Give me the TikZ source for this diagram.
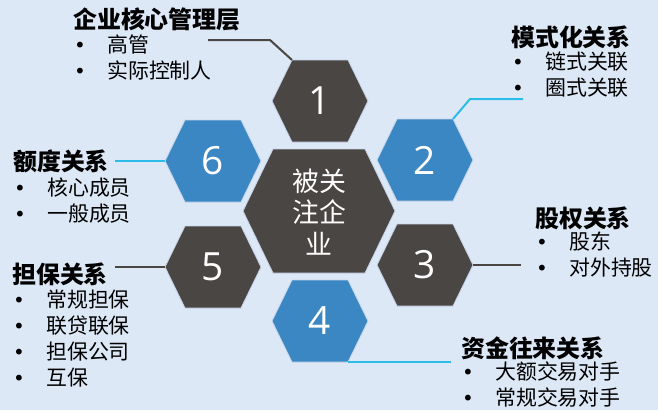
\documentclass[tikz,border=0pt]{standalone}
\usepackage{fontspec}
\usepackage{tikz}
\usetikzlibrary{positioning}
\setmainfont{Noto Sans CJK SC}
\newfontfamily\numfont{Open Sans}
\newfontfamily\dotfont{DejaVu Sans}

\definecolor{bgblue}{RGB}{221,232,246}
\definecolor{hexgray}{RGB}{74,70,68}
\definecolor{hexblue}{RGB}{58,135,196}
\definecolor{hexedge}{RGB}{200,214,234}
\definecolor{linecyan}{RGB}{43,189,232}

\tikzset{
  hexdark/.style={fill=hexgray,draw=hexedge,line width=0.8bp},
  hexlight/.style={fill=hexblue,draw=hexedge,line width=0.8bp},
  numlabel/.style={text=white,inner sep=0,font=\numfont\fontsize{39}{39}\selectfont},
  heading/.style={anchor=west,inner sep=0,font=\bfseries\fontsize{24}{24}\selectfont},
  itemlist/.style={anchor=north west,inner sep=0,align=left,font=\fontsize{21}{26}\selectfont},
  linkgray/.style={draw=hexgray,line width=2bp},
  linkcyan/.style={draw=linecyan,line width=2bp},
}
\newcommand{\bul}{\makebox[33bp][l]{{\dotfont\fontsize{20}{20}\selectfont\textbullet}}}

\begin{document}
\begin{tikzpicture}[x=1bp,y=-1bp]
    \fill[bgblue] (0,0) rectangle (658,410);
    \useasboundingbox (0,0) rectangle (658,410);

    % centre hexagon
    \draw[hexdark,shift={(319,211)}] (-76,0) -- (-46,-62) -- (46,-62) -- (76,0) -- (46,62) -- (-46,62) -- cycle;
    \node[text=white,align=center,inner sep=0,font=\fontsize{27}{32}\selectfont] (core) at (319,212) {被关\\注企\\业};

    % six small hexagons
    \foreach \n/\cx/\cy/\sty in {1/320/101/hexdark,2/425/160/hexlight,3/425/265/hexdark,
                                 4/320/321/hexlight,5/213/267/hexdark,6/213/161/hexlight}{
        \draw[\sty,shift={(\cx,\cy)}] (-48,0) coordinate (h\n-w) -- (-28,-41) coordinate (h\n-nw)
            -- (28,-41) coordinate (h\n-ne) -- (48,0) coordinate (h\n-e)
            -- (28,41) coordinate (h\n-se) -- (-28,41) coordinate (h\n-sw) -- cycle;
        \node[numlabel] (n\n) at (\cx,\cy) {\n};
    }

    % labels
    \node[heading] (t1) at (73,19) {企业核心管理层};
    \node[itemlist] (l1) at (74,35) {\bul 高管\\ \bul 实际控制人};
    \node[heading] (t2) at (511,37) {模式化关系};
    \node[itemlist] (l2) at (512,52) {\bul 链式关联\\ \bul 圈式关联};
    \node[heading] (t3) at (535,218) {股权关系};
    \node[itemlist] (l3) at (536,232) {\bul 股东\\ \bul 对外持股};
    \node[heading] (t4) at (461,348) {资金往来关系};
    \node[itemlist] (l4) at (462,362) {\bul 大额交易对手\\ \bul 常规交易对手};
    \node[heading] (t5) at (12,274) {担保关系};
    \node[itemlist] (l5) at (13,290) {\bul 常规担保\\ \bul 联贷联保\\ \bul 担保公司\\ \bul 互保};
    \node[heading] (t6) at (13,161) {额度关系};
    \node[itemlist] (l6) at (14,178) {\bul 核心成员\\ \bul 一般成员};

    % connectors
    \coordinate (c1) at (208,40);
    \coordinate (c2) at (523,99);
    \coordinate (c3) at (521,265);
    \coordinate (c4) at (451,362);
    \coordinate (c5) at (115,267);
    \coordinate (c6) at (115,161);
    \draw[linkgray] (h1-nw) -- ++(-22,-20) -- (c1);
    \draw[linkcyan] (h2-ne) -- ++(17,-20) -- (c2);
    \draw[linkgray] (h3-e) -- (c3);
    \draw[linkcyan] (h4-se) -- (c4);
    \draw[linkgray] (h5-w) -- (c5);
    \draw[linkcyan] (h6-w) -- (c6);
\end{tikzpicture}
\end{document}
